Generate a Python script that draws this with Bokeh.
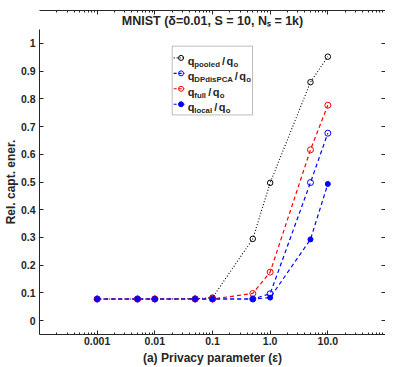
from bokeh.plotting import figure
from bokeh.models import (FixedTicker, LinearAxis, LogAxis, Label, BoxAnnotation, Range1d, Title)
from bokeh.embed import file_html
from bokeh.resources import INLINE
import math

# ---------------- data ----------------
epsilon = [0.001, 0.005, 0.01, 0.05, 0.1, 0.5, 1.0, 5.0, 10.0]
q_pooled = [0.078, 0.078, 0.078, 0.079, 0.083, 0.295, 0.497, 0.860, 0.952]
q_dpdispca = [0.078, 0.078, 0.078, 0.078, 0.078, 0.078, 0.097, 0.498, 0.676]
q_full = [0.078, 0.078, 0.078, 0.078, 0.078, 0.098, 0.175, 0.616, 0.777]
q_local = [0.078, 0.078, 0.078, 0.078, 0.078, 0.078, 0.083, 0.293, 0.493]

x_ticks = [0.001, 0.01, 0.1, 1, 10]
x_tick_labels = ["0.001", "0.01", "0.1", "1.0", "10.0"]
y_ticks = [0, 0.1, 0.2, 0.3, 0.4, 0.5, 0.6, 0.7, 0.8, 0.9, 1]
y_tick_labels = ["0", "0.1", "0.2", "0.3", "0.4", "0.5", "0.6", "0.7", "0.8", "0.9", "1"]

title_text = "MNIST (δ=0.01, S = 10, Nₛ = 1k)"
xlabel = "(a) Privacy parameter (ε)"
ylabel = "Rel. capt. ener."

legend_subs = ["pooled", "DPdisPCA", "full", "local"]

# ---------------- layout ----------------
W, H = 385, 367
FL, FT, FB = 33, 29, 335       # frame left, top, bottom (figure px)
FR = 385
X0, X1 = 1e-4, 1e2
Y0, Y1 = -0.05, 1.05
FONT = "Liberation Sans"
TXT = "#262626"

def fx(px):
    return 10 ** (math.log10(X0) + (px - FL) * (math.log10(X1) - math.log10(X0)) / (FR - FL))
def fy(py):
    return Y1 - (py - FT) * (Y1 - Y0) / (FB - FT)

WID = {'q':.611,'p':.611,'o':.611,'l':.278,'e':.556,'d':.611,' ':.278,'/':.278,'D':.722,'P':.667,
       'i':.278,'s':.556,'C':.722,'A':.722,'f':.333,'u':.611,'c':.556,'a':.556}
def tw(s, size):
    return sum(WID.get(ch, .556) for ch in s) * size

p = figure(width=W, height=H, x_axis_type="log", output_backend="svg",
           toolbar_location=None, title=None,
           x_range=Range1d(X0, X1), y_range=Range1d(Y0, Y1),
           min_border_left=FL, min_border_top=FT, min_border_bottom=H - FB,
           min_border_right=0)
p.xgrid.visible = False
p.ygrid.visible = False
p.outline_line_color = None
p.background_fill_color = "white"
p.border_fill_color = "white"

t = Title(text=title_text, align="center", text_font=FONT, text_font_style="bold",
          text_font_size="12.5px", text_color=TXT, standoff=3)
p.add_layout(t, "above")

minor = [m * 10 ** d for d in range(-4, 2) for m in range(2, 10)]
xt = FixedTicker(ticks=x_ticks, minor_ticks=minor)
yt = FixedTicker(ticks=y_ticks)

def style(ax, labels=True):
    ax.axis_line_color = TXT
    ax.major_tick_line_color = TXT
    ax.minor_tick_line_color = TXT
    ax.major_tick_in = 4
    ax.major_tick_out = 0
    ax.minor_tick_in = 2
    ax.minor_tick_out = 0
    ax.major_label_text_font = FONT
    ax.major_label_text_font_style = "bold"
    ax.major_label_text_font_size = "10.5px"
    ax.major_label_text_color = TXT
    ax.axis_label_text_font = FONT
    ax.axis_label_text_font_style = "bold"
    ax.axis_label_text_font_size = "12px"
    ax.axis_label_text_color = TXT
    if not labels:
        ax.major_label_text_font_size = "1px"
        ax.major_label_text_alpha = 0
        ax.major_label_standoff = 0

xa = p.xaxis[0]
xa.ticker = xt
xa.major_label_overrides = {k: v for k, v in zip(x_ticks, x_tick_labels)}
style(xa)
xa.major_label_standoff = 2
xa.axis_label = xlabel
xa.axis_label_standoff = 3

ya = p.yaxis[0]
ya.ticker = yt
ya.major_label_overrides = {k: v for k, v in zip(y_ticks, y_tick_labels)}
style(ya)
ya.major_label_standoff = 4
ya.axis_label = ylabel
ya.axis_label_standoff = 0
ya.minor_tick_in = 0

top = LogAxis(ticker=xt)
style(top, labels=False)
p.add_layout(top, "above")
right = LinearAxis(ticker=yt)
style(right, labels=False)
right.minor_tick_in = 0
right.axis_line_color = None
p.add_layout(right, "right")

# ---------------- series ----------------
p.line(epsilon, q_pooled, line_color="black", line_width=1.1, line_dash="1 2")
p.scatter(epsilon, q_pooled, marker="circle", size=5.5, fill_color=None, line_color="black", line_width=1)

p.line(epsilon, q_dpdispca, line_color="blue", line_width=1.2, line_dash="4 3")
p.scatter(epsilon, q_dpdispca, marker="circle", size=6, fill_color=None, line_color="blue", line_width=1)

p.line(epsilon, q_full, line_color="red", line_width=1.2, line_dash="4 3")
p.scatter(epsilon, q_full, marker="circle", size=6, fill_color=None, line_color="red", line_width=1)

p.line(epsilon, q_local, line_color="blue", line_width=1.2, line_dash="4 3")
p.scatter(epsilon, q_local, marker="circle", size=5, fill_color="blue", line_color="blue", line_width=1)

# ---------------- legend (custom, with subscripts) ----------------
box = BoxAnnotation(left=fx(168), right=fx(249.7), top=fy(45.7), bottom=fy(114.7),
                    fill_color="white", fill_alpha=1, line_color=TXT, line_width=1, level="annotation")
p.add_layout(box)

styles = [
    dict(color="black", dash="1 2", fill=None),
    dict(color="blue", dash="3 2", fill=None),
    dict(color="red", dash="3 2", fill=None),
    dict(color="blue", dash="3 2", fill="blue"),
]
rows = [57.5, 73, 88.5, 104]
for sub, st, ry in zip(legend_subs, styles, rows):
    yy = fy(ry)
    p.line([fx(169.5), fx(180.5)], [yy, yy], line_color=st["color"], line_dash=st["dash"],
           line_width=1.1, level="overlay")
    p.scatter([fx(177)], [yy], marker="circle", size=5, fill_color=st["fill"],
              line_color=st["color"], line_width=1, level="overlay")
    x0 = 183.8
    base = ry + 3
    pieces = [("q", 11, 0, 0), (sub, 7.8, 3.5, 2.5), ("/", 11, 0, 1.5), ("q", 11, 0, 0.5), ("o", 7.8, 3.5, 0)]
    for txt, sz, dy, gap in pieces:
        p.add_layout(Label(x=fx(x0), y=fy(base + dy), text=txt, text_font=FONT,
                           text_font_style="bold", text_font_size=f"{sz}px", text_color=TXT,
                           text_baseline="alphabetic", text_align="left", level="overlay"))
        x0 += tw(txt, sz) + gap

open("out.html", "w").write(file_html(p, INLINE))
